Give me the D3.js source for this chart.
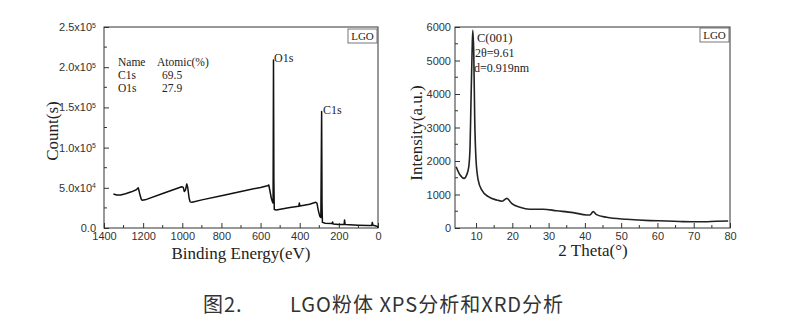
<!DOCTYPE html>
<html><head><meta charset="utf-8">
<script src="https://cdn.jsdelivr.net/npm/d3@7"></script>
<style>
body{margin:0;background:#fff;}
svg{display:block;}
.tick text{font-family:"Liberation Sans",Arial,sans-serif;font-size:11px;fill:#333;}
.serif{font-family:"Liberation Serif","Times New Roman",serif;fill:#222;}
</style></head>
<body>
<svg id="chart" width="800" height="332"></svg>
<script>
// ---------- XPS data (left panel) ----------
const xpsEnergy = [1352,1335,1315,1290,1260,1235,1225,1218,1210,1205,1190,1100,1003,995,990,984,977,972,965,960,950,900,800,700,600,565,558,552,545,540,536,534,532,530,520,450,405,402,399,350,318,312,305,298,292,289,288,286,284,270,235,232,229,200,173,171,168,100,50,32,29,26,10,3,0];
const xpsCounts = [42300,41000,41000,42500,45000,47500,50100,43000,36000,34500,35000,43000,51400,50500,45500,47000,54700,50000,37000,32500,32000,35000,40000,45500,50500,52500,53500,46000,37000,33000,31000,209000,60000,23000,22500,25500,27000,31000,27500,29500,32000,31000,22000,15000,13000,112000,145000,30000,7000,6000,5500,7500,5000,4500,4500,10000,4500,3500,3000,3000,7000,3500,2500,2000,500];
const xpsXTicks = [1400,1200,1000,800,600,400,200,0];
const xpsYTicks = [0,50000,100000,150000,200000,250000];
const xpsYMantissa = ["0.0","5.0","1.0","1.5","2.0","2.5"];
const xpsYExponent = ["","4","5","5","5","5"];
const xpsTableRows = [["Name","Atomic(%)"],["C1s","69.5"],["O1s","27.9"]];

// ---------- XRD data (right panel) ----------
const xrdTheta = [4.5,5.6,6.7,7.4,8.0,8.35,8.6,8.9,9.1,9.37,9.64,10,10.6,11.6,13.4,15.7,17.1,18.5,19.8,22.1,24.8,28.5,32.2,36.8,40.5,41.4,42.3,43.2,46,51.5,58,62.5,67.1,71.7,76.3,79.5];
const xrdIntensity = [1830,1580,1480,1580,1830,2430,3730,5220,5900,5220,3220,2030,1430,1130,935,835,800,885,735,620,560,560,515,460,390,390,490,400,320,260,220,210,190,185,200,210];
const xrdXTicks = [10,20,30,40,50,60,70,80];
const xrdYTicks = [0,1000,2000,3000,4000,5000,6000];

const caption1 = "图2.";
const caption2 = "LGO粉体 XPS分析和XRD分析";

const svg = d3.select("#chart");

function frame(g, x0, y0, w, h){
  g.append("rect").attr("x",x0).attr("y",y0).attr("width",w).attr("height",h)
    .attr("fill","none").attr("stroke","#333").attr("stroke-width",1);
}
function minorTicks(g, positions, orient, base, len){
  positions.forEach(p=>{
    if(orient==="x") g.append("line").attr("x1",p).attr("x2",p).attr("y1",base).attr("y2",base-len).attr("stroke","#333");
    else g.append("line").attr("y1",p).attr("y2",p).attr("x1",base).attr("x2",base+len).attr("stroke","#333");
  });
}
function styleAxis(a){
  a.select(".domain").remove();
  a.selectAll(".tick line").attr("stroke","#333");
}

// ===== Left panel =====
{
  const L=104,R=378,T=27,B=228;
  const x = d3.scaleLinear().domain([1400,0]).range([L,R]);
  const y = d3.scaleLinear().domain([0,250000]).range([B,T]);
  const g = svg.append("g");
  const ax = g.append("g").attr("transform",`translate(0,${B})`)
    .call(d3.axisBottom(x).tickValues(xpsXTicks).tickSize(-5).tickPadding(4).tickFormat(d3.format("d")));
  styleAxis(ax);
  const ay = g.append("g").attr("transform",`translate(${L},0)`)
    .call(d3.axisLeft(y).tickValues(xpsYTicks).tickSize(-5).tickPadding(8));
  styleAxis(ay);
  ay.selectAll(".tick text").each(function(d,i){
    const t=d3.select(this); t.text(null);
    if(xpsYExponent[i]===""){ t.text(xpsYMantissa[i]); }
    else{
      t.append("tspan").text(xpsYMantissa[i]+"x10");
      t.append("tspan").attr("dy","-0.5em").attr("font-size","7px").text(xpsYExponent[i]);
    }
  });
  ay.selectAll(".tick text").attr("dy","0.32em");
  minorTicks(g, d3.range(1300,0,-200).map(x), "x", B, 3);
  minorTicks(g, d3.range(25000,250000,50000).map(y), "y", L, 3);
  frame(g,L,T,R-L,B-T);
  const line = d3.line().x((d,i)=>x(xpsEnergy[i])).y((d,i)=>y(xpsCounts[i]));
  g.append("path").datum(xpsCounts).attr("d",line).attr("fill","none")
    .attr("stroke","#111").attr("stroke-width",1.5).attr("stroke-linejoin","round");
  // table
  const tbl = g.append("g");
  xpsTableRows.forEach((r,i)=>{
    tbl.append("text").attr("class","serif").attr("font-size","11.5px").attr("x",118).attr("y",66+i*13).text(r[0]);
    tbl.append("text").attr("class","serif").attr("font-size","11.5px").attr("x",i===0?157:162).attr("y",66+i*13).text(r[1]);
  });
  g.append("text").attr("class","serif").attr("font-size","12px").attr("x",274).attr("y",62).text("O1s");
  g.append("text").attr("class","serif").attr("font-size","12px").attr("x",323).attr("y",114).text("C1s");
  g.append("rect").attr("x",348).attr("y",29).attr("width",29).attr("height",14).attr("fill","#fff").attr("stroke","#555").attr("stroke-width",0.8);
  g.append("text").attr("class","serif").attr("font-size","11px").attr("x",362.5).attr("y",40).attr("text-anchor","middle").text("LGO");
  g.append("text").attr("class","serif").attr("font-size","17px").attr("x",241).attr("y",259).attr("text-anchor","middle").text("Binding Energy(eV)");
  g.append("text").attr("class","serif").attr("font-size","17px").attr("transform","translate(58,131) rotate(-90)").attr("text-anchor","middle").text("Count(s)");
}

// ===== Right panel =====
{
  const L=455,R=730,T=27,B=228;
  const x = d3.scaleLinear().domain([4.2,80]).range([L,R]);
  const y = d3.scaleLinear().domain([0,6000]).range([B,T]);
  const g = svg.append("g");
  const ax = g.append("g").attr("transform",`translate(0,${B})`)
    .call(d3.axisBottom(x).tickValues(xrdXTicks).tickSize(-5).tickPadding(4).tickFormat(d3.format("d")));
  styleAxis(ax);
  const ay = g.append("g").attr("transform",`translate(${L},0)`)
    .call(d3.axisLeft(y).tickValues(xrdYTicks).tickSize(-5).tickPadding(4).tickFormat(d3.format("d")));
  styleAxis(ay);
  minorTicks(g, d3.range(15,80,10).map(x), "x", B, 3);
  minorTicks(g, d3.range(500,6000,1000).map(y), "y", L, 3);
  frame(g,L,T,R-L,B-T);
  const line = d3.line().x((d,i)=>x(xrdTheta[i])).y((d,i)=>y(xrdIntensity[i])).curve(d3.curveMonotoneX);
  g.append("path").datum(xrdIntensity).attr("d",line).attr("fill","none")
    .attr("stroke","#222").attr("stroke-width",1.6).attr("stroke-linejoin","round");
  g.append("text").attr("class","serif").attr("font-size","12.5px").attr("x",477).attr("y",42).text("C(001)");
  g.append("text").attr("class","serif").attr("font-size","12px").attr("x",475).attr("y",57).text("2θ=9.61");
  g.append("text").attr("class","serif").attr("font-size","12px").attr("x",474).attr("y",72).text("d=0.919nm");
  g.append("rect").attr("x",700).attr("y",28).attr("width",29).attr("height",14).attr("fill","#fff").attr("stroke","#555").attr("stroke-width",0.8);
  g.append("text").attr("class","serif").attr("font-size","11px").attr("x",714.5).attr("y",39).attr("text-anchor","middle").text("LGO");
  g.append("text").attr("class","serif").attr("font-size","17px").attr("x",593).attr("y",256).attr("text-anchor","middle").text("2 Theta(°)");
  g.append("text").attr("class","serif").attr("font-size","17px").attr("transform","translate(422,133) rotate(-90)").attr("text-anchor","middle").text("Intensity(a.u.)");
}

// caption
svg.append("text").attr("x",203).attr("y",312).attr("font-family","'Noto Sans CJK SC',sans-serif")
  .attr("font-size","20px").attr("letter-spacing","1px").attr("fill","#333").text(caption1);
svg.append("text").attr("x",290).attr("y",312).attr("font-family","'Noto Sans CJK SC',sans-serif")
  .attr("font-size","20px").attr("letter-spacing","1px").attr("fill","#333").text(caption2);
</script>
</body></html>
